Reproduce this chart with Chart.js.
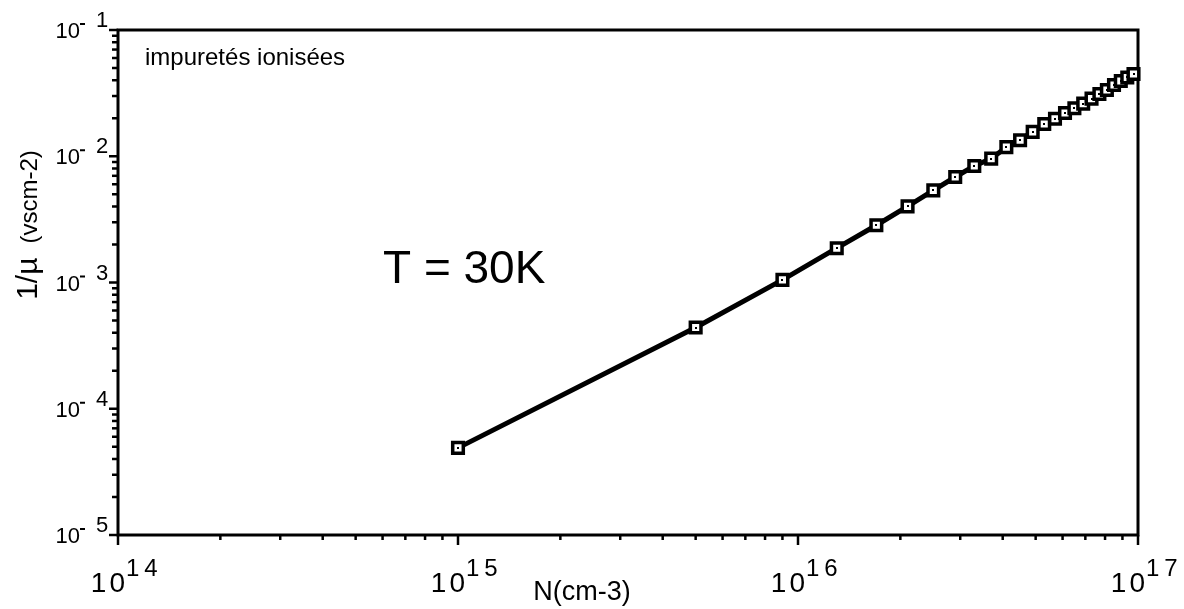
<!DOCTYPE html>
<html>
<head>
<meta charset="utf-8">
<script src="https://cdn.jsdelivr.net/npm/chart.js@4"></script>
<style>
  body { margin: 0; background: #fff; }
  #wrap { width: 1184px; height: 609px; }
</style>
</head>
<body>
<div id="wrap"><canvas id="myChart"></canvas></div>
<script>
const ctx = document.getElementById('myChart');
const FONT = "'Liberation Sans', Arial, Helvetica, sans-serif";

// doping N (cm-3) and 1/mu at T = 30K
const nValues = [
  1e15, 5e15, 9e15, 1.3e16, 1.7e16, 2.1e16, 2.5e16, 2.9e16, 3.3e16,
  3.7e16, 4.1e16, 4.5e16, 4.9e16, 5.3e16, 5.7e16, 6.1e16, 6.5e16,
  6.9e16, 7.3e16, 7.7e16, 8.1e16, 8.5e16, 8.9e16, 9.3e16, 9.7e16
];
const invMu = [
  4.9e-5, 4.4e-4, 1.05e-3, 1.87e-3, 2.84e-3, 4.01e-3, 5.37e-3, 6.85e-3, 8.38e-3,
  9.57e-3, 1.18e-2, 1.34e-2, 1.56e-2, 1.80e-2, 1.98e-2, 2.20e-2, 2.40e-2,
  2.61e-2, 2.86e-2, 3.11e-2, 3.35e-2, 3.67e-2, 3.95e-2, 4.21e-2, 4.48e-2
];

// decade exponents used for ticks and labels
const xDecades = [14, 15, 16, 17];
const yDecades = [-5, -4, -3, -2, -1];

const points = nValues.map((n, i) => ({ x: n, y: invMu[i] }));

const axesPlugin = {
  id: 'axesPlugin',
  beforeDatasetsDraw(chart) {
    const c = chart.ctx;
    const a = chart.chartArea;
    const xs = chart.scales.x;
    const ys = chart.scales.y;
    c.save();
    c.strokeStyle = '#000';
    c.lineWidth = 3;
    c.strokeRect(a.left, a.top, a.right - a.left, a.bottom - a.top);

    // x ticks, pointing down
    c.lineWidth = 2.5;
    for (let k = 0; k < xDecades.length; k++) {
      const e = xDecades[k];
      const steps = k < xDecades.length - 1 ? 9 : 1;
      for (let m = 1; m <= steps; m++) {
        const px = xs.getPixelForValue(m * Math.pow(10, e));
        const len = m === 1 ? 10 : 5;
        c.beginPath();
        c.moveTo(px, a.bottom);
        c.lineTo(px, a.bottom + len);
        c.stroke();
      }
    }
    // y ticks, pointing left
    for (let k = 0; k < yDecades.length; k++) {
      const e = yDecades[k];
      const steps = k < yDecades.length - 1 ? 9 : 1;
      for (let m = 1; m <= steps; m++) {
        const py = ys.getPixelForValue(m * Math.pow(10, e));
        const len = m === 1 ? 9 : 6;
        c.beginPath();
        c.moveTo(a.left, py);
        c.lineTo(a.left - len, py);
        c.stroke();
      }
    }

    c.fillStyle = '#000';
    c.textBaseline = 'alphabetic';
    // x tick labels: 10 with exponent
    xDecades.forEach(e => {
      const px = xs.getPixelForValue(Math.pow(10, e));
      c.font = '28px ' + FONT;
      c.letterSpacing = '3px';
      c.textAlign = 'right';
      c.fillText('10', px + 10, a.bottom + 57);
      c.font = '24px ' + FONT;
      c.letterSpacing = '5px';
      c.textAlign = 'left';
      c.fillText(String(e), px + 8, a.bottom + 41);
    });
    c.letterSpacing = '0px';
    // y tick labels: 10 with negative exponent
    yDecades.forEach(e => {
      const py = ys.getPixelForValue(Math.pow(10, e));
      c.font = '22px ' + FONT;
      c.textAlign = 'right';
      c.fillText('10', 80, py + 8);
      c.fillRect(80, py - 7, 5, 2);
      c.textAlign = 'left';
      c.fillText(String(-e), 96, py - 3);
    });

    // axis titles
    c.font = '27px ' + FONT;
    c.textAlign = 'center';
    c.fillText('N(cm-3)', 582, 600);

    c.save();
    c.translate(37, 225);
    c.rotate(-Math.PI / 2);
    c.textAlign = 'left';
    const t1 = '1/µ';
    const t2 = '(vscm-2)';
    c.font = '24px ' + FONT;
    const w2 = c.measureText(t2).width;
    c.font = '30px ' + FONT;
    const w1 = c.measureText(t1).width;
    const gap = 14;
    const start = -(w1 + gap + w2) / 2;
    c.fillText(t1, start, 0);
    c.font = '24px ' + FONT;
    c.fillText(t2, start + w1 + gap, 0);
    c.restore();

    // annotations inside the frame
    c.textAlign = 'left';
    c.font = '24px ' + FONT;
    c.fillText('impuretés ionisées', 145, 65);
    c.font = '46px ' + FONT;
    c.fillText('T = 30K', 383, 283);
    c.restore();
  },
  afterDatasetsDraw(chart) {
    // small dot in the middle of each square marker
    const c = chart.ctx;
    c.save();
    c.fillStyle = '#000';
    chart.getDatasetMeta(0).data.forEach(pt => {
      c.fillRect(Math.round(pt.x) - 1, Math.round(pt.y) - 1, 2, 2);
    });
    c.restore();
  }
};

const config = {
  type: 'line',
  data: {
    datasets: [{
      label: '1/mu',
      data: points,
      borderColor: '#000',
      borderWidth: 5,
      pointStyle: 'rect',
      pointRadius: 7.5,
      pointBorderWidth: 3.5,
      pointBackgroundColor: '#fff',
      pointBorderColor: '#000',
      tension: 0,
      clip: false
    }]
  },
  options: {
    responsive: true,
    maintainAspectRatio: false,
    animation: false,
    layout: {
      padding: { left: 118, top: 30, right: 46, bottom: 74 }
    },
    plugins: {
      legend: { display: false },
      tooltip: { enabled: false }
    },
    scales: {
      x: {
        type: 'logarithmic',
        min: 1e14,
        max: 1e17,
        display: false
      },
      y: {
        type: 'logarithmic',
        min: 1e-5,
        max: 1e-1,
        display: false
      }
    }
  },
  plugins: [axesPlugin]
};

let chart = new Chart(ctx, config);
</script>
</body>
</html>
